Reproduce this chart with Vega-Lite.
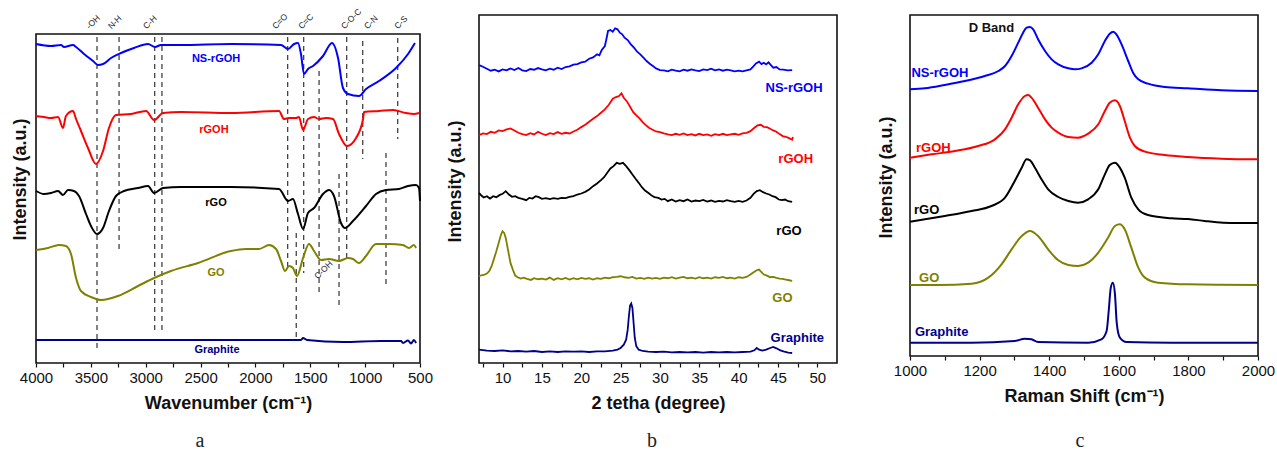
{
"$schema": "https://vega.github.io/schema/vega-lite/v6.json",
"padding": {"left": 10, "top": 7, "right": 0, "bottom": 0},
"background": "white",
"config": {
  "font": "Liberation Sans",
  "view": {"stroke": "#111", "strokeWidth": 1.6},
  "axis": {"grid": false, "domain": false, "labelFont": "Liberation Sans", "labelFontSize": 15, "labelColor": "#111", "labelPadding": 3, "labelFlush": false, "labelOverlap": false, "tickColor": "#111", "tickSize": 4, "tickWidth": 1.2, "titleFont": "Liberation Sans", "titleFontSize": 18, "titleFontWeight": "bold", "titleColor": "#111"},
  "axisX": {"titlePadding": 9},
  "axisY": {"labels": false, "ticks": false},
  "legend": {"disable": true},
  "title": {"font": "Liberation Serif", "fontSize": 20, "fontWeight": "normal", "color": "#222", "orient": "bottom", "frame": "group", "anchor": "middle"}
},
"datasets": {
  "ftirTop": [
    {"t": "-OH", "x": 3499}, {"t": "N-H", "x": 3299}, {"t": "C-H", "x": 2979}, {"t": "C=O", "x": 1803},
    {"t": "C=C", "x": 1566}, {"t": "C-O-C", "x": 1175}, {"t": "C-N", "x": 965}, {"t": "C-S", "x": 691}
  ],
  "ftirRef": [
    {"x": 3444, "y": 326, "y2": 14}, {"x": 3243, "y": 326, "y2": 110}, {"x": 2918, "y": 326, "y2": 29},
    {"x": 2852, "y": 326, "y2": 29}, {"x": 1706, "y": 326, "y2": 92}, {"x": 1560, "y": 326, "y2": 90},
    {"x": 1628, "y": 130, "y2": 22}, {"x": 1420, "y": 292, "y2": 70}, {"x": 1238, "y": 189, "y2": 55},
    {"x": 1168, "y": 326, "y2": 102}, {"x": 1022, "y": 322, "y2": 204}, {"x": 810, "y": 210, "y2": 79},
    {"x": 703, "y": 325, "y2": 224}
  ],
  "ftirLbl": [
    {"s": "NS-rGOH", "x": 2359, "y": 304}, {"s": "rGOH", "x": 2378, "y": 233}, {"s": "rGO", "x": 2359, "y": 160},
    {"s": "GO", "x": 2359, "y": 90}, {"s": "Graphite", "x": 2350, "y": 13}
  ],
  "ftir": [
    {"s":"NS-rGOH","x":4000,"y":319},{"s":"NS-rGOH","x":3863,"y":317},{"s":"NS-rGOH","x":3772,"y":318},{"s":"NS-rGOH","x":3745,"y":316},
    {"s":"NS-rGOH","x":3663,"y":318},{"s":"NS-rGOH","x":3635,"y":316},{"s":"NS-rGOH","x":3562,"y":309},{"s":"NS-rGOH","x":3480,"y":302},
    {"s":"NS-rGOH","x":3435,"y":298},{"s":"NS-rGOH","x":3389,"y":299},{"s":"NS-rGOH","x":3316,"y":305},{"s":"NS-rGOH","x":3225,"y":310},
    {"s":"NS-rGOH","x":3107,"y":315},{"s":"NS-rGOH","x":2979,"y":319},{"s":"NS-rGOH","x":2915,"y":316},{"s":"NS-rGOH","x":2861,"y":318},
    {"s":"NS-rGOH","x":2678,"y":318},{"s":"NS-rGOH","x":2223,"y":319},{"s":"NS-rGOH","x":1767,"y":318},{"s":"NS-rGOH","x":1703,"y":314},
    {"s":"NS-rGOH","x":1648,"y":319},{"s":"NS-rGOH","x":1612,"y":320},{"s":"NS-rGOH","x":1585,"y":309},{"s":"NS-rGOH","x":1557,"y":289},
    {"s":"NS-rGOH","x":1521,"y":294},{"s":"NS-rGOH","x":1475,"y":297},{"s":"NS-rGOH","x":1384,"y":307},{"s":"NS-rGOH","x":1302,"y":320},
    {"s":"NS-rGOH","x":1247,"y":305},{"s":"NS-rGOH","x":1202,"y":275},{"s":"NS-rGOH","x":1156,"y":269},{"s":"NS-rGOH","x":1056,"y":267},
    {"s":"NS-rGOH","x":992,"y":274},{"s":"NS-rGOH","x":874,"y":282},{"s":"NS-rGOH","x":719,"y":295},{"s":"NS-rGOH","x":609,"y":309},
    {"s":"NS-rGOH","x":546,"y":320},
    {"s":"rGOH","x":4000,"y":247},{"s":"rGOH","x":3927,"y":246},{"s":"rGOH","x":3863,"y":245},{"s":"rGOH","x":3799,"y":246},
    {"s":"rGOH","x":3754,"y":235},{"s":"rGOH","x":3727,"y":247},{"s":"rGOH","x":3663,"y":252},{"s":"rGOH","x":3635,"y":244},
    {"s":"rGOH","x":3590,"y":232},{"s":"rGOH","x":3526,"y":215},{"s":"rGOH","x":3453,"y":199},{"s":"rGOH","x":3389,"y":212},
    {"s":"rGOH","x":3335,"y":235},{"s":"rGOH","x":3271,"y":248},{"s":"rGOH","x":3134,"y":249},{"s":"rGOH","x":2997,"y":252},
    {"s":"rGOH","x":2924,"y":243},{"s":"rGOH","x":2842,"y":250},{"s":"rGOH","x":2678,"y":251},{"s":"rGOH","x":2223,"y":250},
    {"s":"rGOH","x":1785,"y":252},{"s":"rGOH","x":1740,"y":244},{"s":"rGOH","x":1694,"y":245},{"s":"rGOH","x":1630,"y":245},
    {"s":"rGOH","x":1603,"y":246},{"s":"rGOH","x":1566,"y":233},{"s":"rGOH","x":1521,"y":244},{"s":"rGOH","x":1466,"y":246},
    {"s":"rGOH","x":1421,"y":244},{"s":"rGOH","x":1357,"y":245},{"s":"rGOH","x":1293,"y":244},{"s":"rGOH","x":1238,"y":229},
    {"s":"rGOH","x":1165,"y":217},{"s":"rGOH","x":1083,"y":225},{"s":"rGOH","x":1019,"y":244},{"s":"rGOH","x":1010,"y":251},
    {"s":"rGOH","x":874,"y":252},{"s":"rGOH","x":746,"y":253},{"s":"rGOH","x":628,"y":250},{"s":"rGOH","x":555,"y":249},
    {"s":"rGOH","x":509,"y":250},
    {"s":"rGO","x":4000,"y":172},{"s":"rGO","x":3927,"y":169},{"s":"rGO","x":3863,"y":170},{"s":"rGO","x":3799,"y":172},
    {"s":"rGO","x":3754,"y":168},{"s":"rGO","x":3708,"y":173},{"s":"rGO","x":3654,"y":172},{"s":"rGO","x":3608,"y":167},
    {"s":"rGO","x":3544,"y":149},{"s":"rGO","x":3499,"y":137},{"s":"rGO","x":3444,"y":129},{"s":"rGO","x":3389,"y":135},
    {"s":"rGO","x":3335,"y":152},{"s":"rGO","x":3271,"y":167},{"s":"rGO","x":3198,"y":172},{"s":"rGO","x":3070,"y":175},
    {"s":"rGO","x":2979,"y":177},{"s":"rGO","x":2924,"y":170},{"s":"rGO","x":2842,"y":175},{"s":"rGO","x":2678,"y":176},
    {"s":"rGO","x":2223,"y":176},{"s":"rGO","x":1785,"y":174},{"s":"rGO","x":1703,"y":162},{"s":"rGO","x":1658,"y":164},
    {"s":"rGO","x":1612,"y":149},{"s":"rGO","x":1566,"y":134},{"s":"rGO","x":1521,"y":150},{"s":"rGO","x":1466,"y":155},
    {"s":"rGO","x":1384,"y":169},{"s":"rGO","x":1329,"y":173},{"s":"rGO","x":1284,"y":167},{"s":"rGO","x":1220,"y":140},
    {"s":"rGO","x":1184,"y":135},{"s":"rGO","x":1111,"y":142},{"s":"rGO","x":992,"y":157},{"s":"rGO","x":901,"y":169},
    {"s":"rGO","x":810,"y":173},{"s":"rGO","x":691,"y":174},{"s":"rGO","x":609,"y":177},{"s":"rGO","x":536,"y":178},
    {"s":"rGO","x":509,"y":175},{"s":"rGO","x":500,"y":162},
    {"s":"GO","x":4000,"y":113},{"s":"GO","x":3891,"y":115},{"s":"GO","x":3790,"y":118},{"s":"GO","x":3727,"y":117},
    {"s":"GO","x":3681,"y":109},{"s":"GO","x":3635,"y":85},{"s":"GO","x":3590,"y":72},{"s":"GO","x":3499,"y":66},
    {"s":"GO","x":3408,"y":63},{"s":"GO","x":3253,"y":67},{"s":"GO","x":3070,"y":77},{"s":"GO","x":2924,"y":85},
    {"s":"GO","x":2770,"y":92},{"s":"GO","x":2523,"y":100},{"s":"GO","x":2223,"y":112},{"s":"GO","x":2086,"y":114},
    {"s":"GO","x":1967,"y":114},{"s":"GO","x":1876,"y":118},{"s":"GO","x":1812,"y":114},{"s":"GO","x":1767,"y":102},
    {"s":"GO","x":1730,"y":92},{"s":"GO","x":1694,"y":97},{"s":"GO","x":1658,"y":95},{"s":"GO","x":1621,"y":87},
    {"s":"GO","x":1566,"y":105},{"s":"GO","x":1512,"y":119},{"s":"GO","x":1466,"y":112},{"s":"GO","x":1402,"y":103},
    {"s":"GO","x":1329,"y":104},{"s":"GO","x":1238,"y":102},{"s":"GO","x":1156,"y":105},{"s":"GO","x":1111,"y":104},
    {"s":"GO","x":1056,"y":100},{"s":"GO","x":992,"y":107},{"s":"GO","x":901,"y":119},{"s":"GO","x":783,"y":119},
    {"s":"GO","x":655,"y":118},{"s":"GO","x":600,"y":115},{"s":"GO","x":555,"y":118},{"s":"GO","x":536,"y":115},
    {"s":"Graphite","x":4000,"y":23},{"s":"Graphite","x":2268,"y":23},{"s":"Graphite","x":1585,"y":23},{"s":"Graphite","x":1566,"y":25},
    {"s":"Graphite","x":1530,"y":23},{"s":"Graphite","x":1202,"y":21},{"s":"Graphite","x":855,"y":22},{"s":"Graphite","x":673,"y":22},
    {"s":"Graphite","x":655,"y":20},{"s":"Graphite","x":609,"y":22.5},{"s":"Graphite","x":582,"y":19.5},{"s":"Graphite","x":555,"y":23},
    {"s":"Graphite","x":536,"y":20}
  ],
  "xrdLbl": [
    {"s": "NS-rGOH", "x": 47.04, "y": 823}, {"s": "rGOH", "x": 47.25, "y": 610}, {"s": "rGO", "x": 46.4, "y": 395},
    {"s": "GO", "x": 45.56, "y": 195}, {"s": "Graphite", "x": 47.46, "y": 75}
  ],
  "xrd": [
    {"s":"NS-rGOH","x":7.0,"y":893},{"s":"NS-rGOH","x":7.5,"y":888},{"s":"NS-rGOH","x":8.0,"y":882},{"s":"NS-rGOH","x":8.5,"y":876},{"s":"NS-rGOH","x":9.0,"y":879},
    {"s":"NS-rGOH","x":9.5,"y":874},{"s":"NS-rGOH","x":10.0,"y":880},{"s":"NS-rGOH","x":10.5,"y":877},{"s":"NS-rGOH","x":11.0,"y":883},{"s":"NS-rGOH","x":11.5,"y":878},
    {"s":"NS-rGOH","x":12.0,"y":884},{"s":"NS-rGOH","x":12.5,"y":877},{"s":"NS-rGOH","x":13.0,"y":875},{"s":"NS-rGOH","x":13.5,"y":881},{"s":"NS-rGOH","x":14.0,"y":879},
    {"s":"NS-rGOH","x":14.5,"y":884},{"s":"NS-rGOH","x":15.0,"y":880},{"s":"NS-rGOH","x":15.5,"y":877},{"s":"NS-rGOH","x":16.0,"y":882},{"s":"NS-rGOH","x":16.5,"y":879},
    {"s":"NS-rGOH","x":17.0,"y":885},{"s":"NS-rGOH","x":17.5,"y":881},{"s":"NS-rGOH","x":18.0,"y":887},{"s":"NS-rGOH","x":18.5,"y":889},{"s":"NS-rGOH","x":19.0,"y":894},
    {"s":"NS-rGOH","x":19.5,"y":896},{"s":"NS-rGOH","x":20.0,"y":901},{"s":"NS-rGOH","x":20.5,"y":903},{"s":"NS-rGOH","x":21.0,"y":912},{"s":"NS-rGOH","x":21.5,"y":916},
    {"s":"NS-rGOH","x":22.0,"y":925},{"s":"NS-rGOH","x":22.3,"y":922},{"s":"NS-rGOH","x":22.6,"y":938},{"s":"NS-rGOH","x":23.0,"y":950},{"s":"NS-rGOH","x":23.2,"y":972},
    {"s":"NS-rGOH","x":23.4,"y":995},{"s":"NS-rGOH","x":23.7,"y":998},{"s":"NS-rGOH","x":24.0,"y":993},{"s":"NS-rGOH","x":24.3,"y":1003},{"s":"NS-rGOH","x":24.6,"y":1000},
    {"s":"NS-rGOH","x":24.9,"y":990},{"s":"NS-rGOH","x":25.2,"y":985},{"s":"NS-rGOH","x":25.5,"y":975},{"s":"NS-rGOH","x":25.9,"y":968},{"s":"NS-rGOH","x":26.3,"y":955},
    {"s":"NS-rGOH","x":26.7,"y":945},{"s":"NS-rGOH","x":27.1,"y":933},{"s":"NS-rGOH","x":27.5,"y":925},{"s":"NS-rGOH","x":27.9,"y":915},{"s":"NS-rGOH","x":28.3,"y":905},
    {"s":"NS-rGOH","x":28.7,"y":897},{"s":"NS-rGOH","x":29.1,"y":890},{"s":"NS-rGOH","x":29.5,"y":883},{"s":"NS-rGOH","x":30.0,"y":878},{"s":"NS-rGOH","x":30.5,"y":877},
    {"s":"NS-rGOH","x":31.0,"y":874},{"s":"NS-rGOH","x":31.5,"y":879},{"s":"NS-rGOH","x":32.0,"y":876},{"s":"NS-rGOH","x":32.5,"y":874},{"s":"NS-rGOH","x":33.0,"y":879},
    {"s":"NS-rGOH","x":33.5,"y":876},{"s":"NS-rGOH","x":34.0,"y":880},{"s":"NS-rGOH","x":34.5,"y":877},{"s":"NS-rGOH","x":35.0,"y":875},{"s":"NS-rGOH","x":35.5,"y":880},
    {"s":"NS-rGOH","x":36.0,"y":878},{"s":"NS-rGOH","x":36.5,"y":882},{"s":"NS-rGOH","x":37.0,"y":877},{"s":"NS-rGOH","x":37.5,"y":880},{"s":"NS-rGOH","x":38.0,"y":876},
    {"s":"NS-rGOH","x":38.5,"y":879},{"s":"NS-rGOH","x":39.0,"y":877},{"s":"NS-rGOH","x":39.5,"y":874},{"s":"NS-rGOH","x":40.0,"y":876},{"s":"NS-rGOH","x":40.5,"y":874},
    {"s":"NS-rGOH","x":41.0,"y":877},{"s":"NS-rGOH","x":41.5,"y":880},{"s":"NS-rGOH","x":41.9,"y":890},{"s":"NS-rGOH","x":42.2,"y":898},{"s":"NS-rGOH","x":42.6,"y":903},
    {"s":"NS-rGOH","x":42.9,"y":896},{"s":"NS-rGOH","x":43.2,"y":900},{"s":"NS-rGOH","x":43.5,"y":895},{"s":"NS-rGOH","x":43.8,"y":901},{"s":"NS-rGOH","x":44.1,"y":893},
    {"s":"NS-rGOH","x":44.4,"y":885},{"s":"NS-rGOH","x":44.8,"y":887},{"s":"NS-rGOH","x":45.2,"y":880},{"s":"NS-rGOH","x":45.7,"y":879},{"s":"NS-rGOH","x":46.2,"y":877},
    {"s":"NS-rGOH","x":46.8,"y":878},
    {"s":"rGOH","x":7.0,"y":683},{"s":"rGOH","x":7.5,"y":688},{"s":"rGOH","x":8.0,"y":686},{"s":"rGOH","x":8.5,"y":693},{"s":"rGOH","x":9.0,"y":690},
    {"s":"rGOH","x":9.5,"y":697},{"s":"rGOH","x":10.0,"y":695},{"s":"rGOH","x":10.5,"y":700},{"s":"rGOH","x":11.0,"y":703},{"s":"rGOH","x":11.5,"y":697},
    {"s":"rGOH","x":12.0,"y":690},{"s":"rGOH","x":12.5,"y":686},{"s":"rGOH","x":13.0,"y":683},{"s":"rGOH","x":13.5,"y":689},{"s":"rGOH","x":14.0,"y":685},
    {"s":"rGOH","x":14.5,"y":693},{"s":"rGOH","x":15.0,"y":687},{"s":"rGOH","x":15.5,"y":683},{"s":"rGOH","x":16.0,"y":689},{"s":"rGOH","x":16.5,"y":686},
    {"s":"rGOH","x":17.0,"y":692},{"s":"rGOH","x":17.5,"y":687},{"s":"rGOH","x":18.0,"y":690},{"s":"rGOH","x":18.5,"y":688},{"s":"rGOH","x":19.0,"y":694},
    {"s":"rGOH","x":19.5,"y":699},{"s":"rGOH","x":20.0,"y":707},{"s":"rGOH","x":20.5,"y":714},{"s":"rGOH","x":21.0,"y":723},{"s":"rGOH","x":21.5,"y":732},
    {"s":"rGOH","x":22.0,"y":740},{"s":"rGOH","x":22.5,"y":750},{"s":"rGOH","x":23.0,"y":760},{"s":"rGOH","x":23.5,"y":774},{"s":"rGOH","x":24.0,"y":792},
    {"s":"rGOH","x":24.4,"y":797},{"s":"rGOH","x":24.8,"y":800},{"s":"rGOH","x":25.1,"y":808},{"s":"rGOH","x":25.4,"y":795},{"s":"rGOH","x":25.8,"y":784},
    {"s":"rGOH","x":26.2,"y":768},{"s":"rGOH","x":26.6,"y":752},{"s":"rGOH","x":27.0,"y":742},{"s":"rGOH","x":27.4,"y":733},{"s":"rGOH","x":27.8,"y":722},
    {"s":"rGOH","x":28.2,"y":713},{"s":"rGOH","x":28.6,"y":705},{"s":"rGOH","x":29.0,"y":700},{"s":"rGOH","x":29.5,"y":694},{"s":"rGOH","x":30.0,"y":692},
    {"s":"rGOH","x":30.5,"y":688},{"s":"rGOH","x":31.0,"y":685},{"s":"rGOH","x":31.5,"y":683},{"s":"rGOH","x":32.0,"y":687},{"s":"rGOH","x":32.5,"y":684},
    {"s":"rGOH","x":33.0,"y":688},{"s":"rGOH","x":33.5,"y":683},{"s":"rGOH","x":34.0,"y":686},{"s":"rGOH","x":34.5,"y":682},{"s":"rGOH","x":35.0,"y":687},
    {"s":"rGOH","x":35.5,"y":683},{"s":"rGOH","x":36.0,"y":685},{"s":"rGOH","x":36.5,"y":681},{"s":"rGOH","x":37.0,"y":686},{"s":"rGOH","x":37.5,"y":683},
    {"s":"rGOH","x":38.0,"y":687},{"s":"rGOH","x":38.5,"y":683},{"s":"rGOH","x":39.0,"y":685},{"s":"rGOH","x":39.5,"y":687},{"s":"rGOH","x":40.0,"y":684},
    {"s":"rGOH","x":40.5,"y":688},{"s":"rGOH","x":41.0,"y":690},{"s":"rGOH","x":41.5,"y":695},{"s":"rGOH","x":42.0,"y":705},{"s":"rGOH","x":42.4,"y":712},
    {"s":"rGOH","x":42.8,"y":714},{"s":"rGOH","x":43.2,"y":708},{"s":"rGOH","x":43.6,"y":707},{"s":"rGOH","x":44.0,"y":702},{"s":"rGOH","x":44.4,"y":697},
    {"s":"rGOH","x":44.8,"y":693},{"s":"rGOH","x":45.2,"y":686},{"s":"rGOH","x":45.6,"y":680},{"s":"rGOH","x":46.0,"y":678},{"s":"rGOH","x":46.4,"y":674},
    {"s":"rGOH","x":46.8,"y":669},{"s":"rGOH","x":46.9,"y":677},
    {"s":"rGO","x":7.0,"y":510},{"s":"rGO","x":7.3,"y":502},{"s":"rGO","x":7.6,"y":496},{"s":"rGO","x":8.0,"y":500},{"s":"rGO","x":8.4,"y":493},
    {"s":"rGO","x":8.8,"y":500},{"s":"rGO","x":9.2,"y":497},{"s":"rGO","x":9.6,"y":503},{"s":"rGO","x":10.0,"y":507},{"s":"rGO","x":10.4,"y":515},
    {"s":"rGO","x":10.8,"y":505},{"s":"rGO","x":11.2,"y":498},{"s":"rGO","x":11.6,"y":500},{"s":"rGO","x":12.0,"y":495},{"s":"rGO","x":12.5,"y":492},
    {"s":"rGO","x":13.0,"y":488},{"s":"rGO","x":13.4,"y":495},{"s":"rGO","x":13.8,"y":493},{"s":"rGO","x":14.2,"y":500},{"s":"rGO","x":14.6,"y":497},
    {"s":"rGO","x":15.0,"y":492},{"s":"rGO","x":15.5,"y":494},{"s":"rGO","x":16.0,"y":491},{"s":"rGO","x":16.5,"y":494},{"s":"rGO","x":17.0,"y":492},
    {"s":"rGO","x":17.5,"y":495},{"s":"rGO","x":18.0,"y":494},{"s":"rGO","x":18.5,"y":498},{"s":"rGO","x":19.0,"y":500},{"s":"rGO","x":19.5,"y":505},
    {"s":"rGO","x":20.0,"y":508},{"s":"rGO","x":20.5,"y":513},{"s":"rGO","x":21.0,"y":520},{"s":"rGO","x":21.5,"y":530},{"s":"rGO","x":22.0,"y":538},
    {"s":"rGO","x":22.5,"y":548},{"s":"rGO","x":22.9,"y":557},{"s":"rGO","x":23.3,"y":570},{"s":"rGO","x":23.7,"y":583},{"s":"rGO","x":24.1,"y":590},
    {"s":"rGO","x":24.5,"y":600},{"s":"rGO","x":24.9,"y":597},{"s":"rGO","x":25.3,"y":600},{"s":"rGO","x":25.7,"y":590},{"s":"rGO","x":26.1,"y":578},
    {"s":"rGO","x":26.5,"y":565},{"s":"rGO","x":26.9,"y":552},{"s":"rGO","x":27.3,"y":540},{"s":"rGO","x":27.7,"y":527},{"s":"rGO","x":28.1,"y":517},
    {"s":"rGO","x":28.5,"y":510},{"s":"rGO","x":28.9,"y":503},{"s":"rGO","x":29.3,"y":497},{"s":"rGO","x":29.8,"y":495},{"s":"rGO","x":30.2,"y":490},
    {"s":"rGO","x":30.6,"y":492},{"s":"rGO","x":31.0,"y":485},{"s":"rGO","x":31.5,"y":490},{"s":"rGO","x":32.0,"y":484},{"s":"rGO","x":32.5,"y":488},
    {"s":"rGO","x":33.0,"y":485},{"s":"rGO","x":33.5,"y":490},{"s":"rGO","x":34.0,"y":484},{"s":"rGO","x":34.5,"y":487},{"s":"rGO","x":35.0,"y":485},
    {"s":"rGO","x":35.5,"y":489},{"s":"rGO","x":36.0,"y":484},{"s":"rGO","x":36.5,"y":487},{"s":"rGO","x":37.0,"y":483},{"s":"rGO","x":37.5,"y":486},
    {"s":"rGO","x":38.0,"y":484},{"s":"rGO","x":38.5,"y":488},{"s":"rGO","x":39.0,"y":485},{"s":"rGO","x":39.5,"y":483},{"s":"rGO","x":40.0,"y":486},
    {"s":"rGO","x":40.5,"y":483},{"s":"rGO","x":41.0,"y":487},{"s":"rGO","x":41.5,"y":495},{"s":"rGO","x":41.9,"y":507},{"s":"rGO","x":42.3,"y":515},
    {"s":"rGO","x":42.7,"y":518},{"s":"rGO","x":43.1,"y":512},{"s":"rGO","x":43.5,"y":508},{"s":"rGO","x":43.9,"y":505},{"s":"rGO","x":44.3,"y":500},
    {"s":"rGO","x":44.7,"y":497},{"s":"rGO","x":45.1,"y":490},{"s":"rGO","x":45.5,"y":488},{"s":"rGO","x":45.9,"y":490},{"s":"rGO","x":46.3,"y":485},
    {"s":"rGO","x":46.8,"y":483},
    {"s":"GO","x":7.0,"y":260},{"s":"GO","x":7.3,"y":263},{"s":"GO","x":7.7,"y":265},{"s":"GO","x":8.0,"y":268},{"s":"GO","x":8.3,"y":275},
    {"s":"GO","x":8.6,"y":290},{"s":"GO","x":8.9,"y":312},{"s":"GO","x":9.2,"y":335},{"s":"GO","x":9.5,"y":360},{"s":"GO","x":9.8,"y":385},
    {"s":"GO","x":10.0,"y":395},{"s":"GO","x":10.2,"y":390},{"s":"GO","x":10.4,"y":375},{"s":"GO","x":10.6,"y":350},{"s":"GO","x":10.8,"y":325},
    {"s":"GO","x":11.0,"y":300},{"s":"GO","x":11.3,"y":280},{"s":"GO","x":11.6,"y":262},{"s":"GO","x":11.9,"y":257},{"s":"GO","x":12.3,"y":253},
    {"s":"GO","x":12.7,"y":256},{"s":"GO","x":13.1,"y":252},{"s":"GO","x":13.6,"y":249},{"s":"GO","x":14.0,"y":254},{"s":"GO","x":14.5,"y":251},
    {"s":"GO","x":15.0,"y":253},{"s":"GO","x":15.5,"y":250},{"s":"GO","x":16.0,"y":256},{"s":"GO","x":16.5,"y":249},{"s":"GO","x":17.0,"y":254},
    {"s":"GO","x":17.5,"y":251},{"s":"GO","x":18.0,"y":255},{"s":"GO","x":18.5,"y":250},{"s":"GO","x":19.0,"y":254},{"s":"GO","x":19.5,"y":251},
    {"s":"GO","x":20.0,"y":255},{"s":"GO","x":20.5,"y":252},{"s":"GO","x":21.0,"y":254},{"s":"GO","x":21.5,"y":250},{"s":"GO","x":22.0,"y":254},
    {"s":"GO","x":22.5,"y":252},{"s":"GO","x":23.0,"y":256},{"s":"GO","x":23.5,"y":254},{"s":"GO","x":24.0,"y":257},{"s":"GO","x":24.5,"y":258},
    {"s":"GO","x":25.0,"y":260},{"s":"GO","x":25.5,"y":257},{"s":"GO","x":26.0,"y":255},{"s":"GO","x":26.5,"y":258},{"s":"GO","x":27.0,"y":253},
    {"s":"GO","x":27.5,"y":255},{"s":"GO","x":28.0,"y":252},{"s":"GO","x":28.5,"y":256},{"s":"GO","x":29.0,"y":253},{"s":"GO","x":29.5,"y":255},
    {"s":"GO","x":30.0,"y":252},{"s":"GO","x":30.5,"y":256},{"s":"GO","x":31.0,"y":254},{"s":"GO","x":31.5,"y":257},{"s":"GO","x":32.0,"y":253},
    {"s":"GO","x":32.5,"y":256},{"s":"GO","x":33.0,"y":258},{"s":"GO","x":33.5,"y":254},{"s":"GO","x":34.0,"y":256},{"s":"GO","x":34.5,"y":253},
    {"s":"GO","x":35.0,"y":257},{"s":"GO","x":35.5,"y":254},{"s":"GO","x":36.0,"y":256},{"s":"GO","x":36.5,"y":253},{"s":"GO","x":37.0,"y":257},
    {"s":"GO","x":37.5,"y":255},{"s":"GO","x":38.0,"y":258},{"s":"GO","x":38.5,"y":254},{"s":"GO","x":39.0,"y":256},{"s":"GO","x":39.5,"y":253},
    {"s":"GO","x":40.0,"y":257},{"s":"GO","x":40.5,"y":255},{"s":"GO","x":41.0,"y":258},{"s":"GO","x":41.5,"y":265},{"s":"GO","x":41.9,"y":272},
    {"s":"GO","x":42.3,"y":278},{"s":"GO","x":42.6,"y":280},{"s":"GO","x":42.9,"y":272},{"s":"GO","x":43.2,"y":265},{"s":"GO","x":43.6,"y":262},
    {"s":"GO","x":44.0,"y":257},{"s":"GO","x":44.4,"y":258},{"s":"GO","x":44.8,"y":255},{"s":"GO","x":45.2,"y":253},{"s":"GO","x":45.6,"y":252},
    {"s":"GO","x":46.0,"y":250},{"s":"GO","x":46.4,"y":248},{"s":"GO","x":46.8,"y":246},
    {"s":"Graphite","x":7.0,"y":40},{"s":"Graphite","x":8.0,"y":37},{"s":"Graphite","x":9.0,"y":36},{"s":"Graphite","x":10.0,"y":38},{"s":"Graphite","x":11.0,"y":35},
    {"s":"Graphite","x":12.0,"y":36},{"s":"Graphite","x":13.0,"y":34},{"s":"Graphite","x":14.0,"y":36},{"s":"Graphite","x":15.0,"y":33},{"s":"Graphite","x":16.0,"y":35},
    {"s":"Graphite","x":17.0,"y":33},{"s":"Graphite","x":18.0,"y":35},{"s":"Graphite","x":19.0,"y":34},{"s":"Graphite","x":20.0,"y":35},{"s":"Graphite","x":21.0,"y":33},
    {"s":"Graphite","x":22.0,"y":35},{"s":"Graphite","x":23.0,"y":35},{"s":"Graphite","x":24.0,"y":37},{"s":"Graphite","x":24.6,"y":40},{"s":"Graphite","x":25.0,"y":45},
    {"s":"Graphite","x":25.4,"y":55},{"s":"Graphite","x":25.7,"y":70},{"s":"Graphite","x":25.9,"y":100},{"s":"Graphite","x":26.05,"y":140},{"s":"Graphite","x":26.2,"y":172},
    {"s":"Graphite","x":26.35,"y":178},{"s":"Graphite","x":26.5,"y":165},{"s":"Graphite","x":26.65,"y":120},{"s":"Graphite","x":26.8,"y":75},{"s":"Graphite","x":27.0,"y":50},
    {"s":"Graphite","x":27.3,"y":40},{"s":"Graphite","x":27.8,"y":36},{"s":"Graphite","x":28.5,"y":34},{"s":"Graphite","x":29.5,"y":33},{"s":"Graphite","x":30.5,"y":34},
    {"s":"Graphite","x":31.5,"y":32},{"s":"Graphite","x":32.5,"y":33},{"s":"Graphite","x":33.5,"y":32},{"s":"Graphite","x":34.5,"y":33},{"s":"Graphite","x":35.5,"y":31},
    {"s":"Graphite","x":36.5,"y":33},{"s":"Graphite","x":37.5,"y":32},{"s":"Graphite","x":38.5,"y":33},{"s":"Graphite","x":39.5,"y":32},{"s":"Graphite","x":40.5,"y":33},
    {"s":"Graphite","x":41.5,"y":34},{"s":"Graphite","x":42.0,"y":38},{"s":"Graphite","x":42.3,"y":45},{"s":"Graphite","x":42.6,"y":40},{"s":"Graphite","x":43.0,"y":37},
    {"s":"Graphite","x":43.5,"y":40},{"s":"Graphite","x":44.0,"y":45},{"s":"Graphite","x":44.4,"y":48},{"s":"Graphite","x":44.8,"y":44},{"s":"Graphite","x":45.3,"y":38},
    {"s":"Graphite","x":45.8,"y":34},{"s":"Graphite","x":46.3,"y":31},{"s":"Graphite","x":46.8,"y":30}
  ],
  "ramanLbl": [
    {"s": "NS-rGOH", "x": 1086, "y": 848}, {"s": "rGOH", "x": 1067, "y": 625}, {"s": "rGO", "x": 1048, "y": 437},
    {"s": "GO", "x": 1055, "y": 235}, {"s": "Graphite", "x": 1091, "y": 73}
  ],
  "raman": [
    {"s":"NS-rGOH","x":1000,"y":800},{"s":"NS-rGOH","x":1043,"y":803},{"s":"NS-rGOH","x":1100,"y":813},{"s":"NS-rGOH","x":1158,"y":825},{"s":"NS-rGOH","x":1215,"y":840},
    {"s":"NS-rGOH","x":1254,"y":855},{"s":"NS-rGOH","x":1273,"y":870},{"s":"NS-rGOH","x":1292,"y":900},{"s":"NS-rGOH","x":1311,"y":940},{"s":"NS-rGOH","x":1325,"y":970},
    {"s":"NS-rGOH","x":1335,"y":985},{"s":"NS-rGOH","x":1345,"y":987},{"s":"NS-rGOH","x":1354,"y":980},{"s":"NS-rGOH","x":1368,"y":950},{"s":"NS-rGOH","x":1388,"y":915},
    {"s":"NS-rGOH","x":1407,"y":890},{"s":"NS-rGOH","x":1426,"y":875},{"s":"NS-rGOH","x":1455,"y":863},{"s":"NS-rGOH","x":1474,"y":860},{"s":"NS-rGOH","x":1493,"y":863},
    {"s":"NS-rGOH","x":1522,"y":880},{"s":"NS-rGOH","x":1541,"y":905},{"s":"NS-rGOH","x":1560,"y":945},{"s":"NS-rGOH","x":1574,"y":967},{"s":"NS-rGOH","x":1584,"y":973},
    {"s":"NS-rGOH","x":1593,"y":965},{"s":"NS-rGOH","x":1608,"y":935},{"s":"NS-rGOH","x":1627,"y":885},{"s":"NS-rGOH","x":1641,"y":850},{"s":"NS-rGOH","x":1656,"y":830},
    {"s":"NS-rGOH","x":1684,"y":817},{"s":"NS-rGOH","x":1732,"y":807},{"s":"NS-rGOH","x":1799,"y":803},{"s":"NS-rGOH","x":1895,"y":797},{"s":"NS-rGOH","x":2000,"y":795},
    {"s":"rGOH","x":1000,"y":595},{"s":"rGOH","x":1062,"y":605},{"s":"rGOH","x":1129,"y":615},{"s":"rGOH","x":1196,"y":630},{"s":"rGOH","x":1244,"y":650},
    {"s":"rGOH","x":1273,"y":680},{"s":"rGOH","x":1292,"y":715},{"s":"rGOH","x":1311,"y":755},{"s":"rGOH","x":1330,"y":780},{"s":"rGOH","x":1340,"y":783},
    {"s":"rGOH","x":1349,"y":775},{"s":"rGOH","x":1368,"y":745},{"s":"rGOH","x":1388,"y":710},{"s":"rGOH","x":1407,"y":685},{"s":"rGOH","x":1426,"y":670},
    {"s":"rGOH","x":1455,"y":657},{"s":"rGOH","x":1483,"y":655},{"s":"rGOH","x":1512,"y":667},{"s":"rGOH","x":1541,"y":695},{"s":"rGOH","x":1560,"y":735},
    {"s":"rGOH","x":1574,"y":760},{"s":"rGOH","x":1589,"y":767},{"s":"rGOH","x":1603,"y":750},{"s":"rGOH","x":1617,"y":705},{"s":"rGOH","x":1632,"y":655},
    {"s":"rGOH","x":1646,"y":630},{"s":"rGOH","x":1675,"y":613},{"s":"rGOH","x":1732,"y":603},{"s":"rGOH","x":1799,"y":597},{"s":"rGOH","x":1895,"y":592},
    {"s":"rGOH","x":2000,"y":590},
    {"s":"rGO","x":1000,"y":403},{"s":"rGO","x":1043,"y":410},{"s":"rGO","x":1100,"y":420},{"s":"rGO","x":1177,"y":435},{"s":"rGO","x":1234,"y":450},
    {"s":"rGO","x":1273,"y":475},{"s":"rGO","x":1301,"y":525},{"s":"rGO","x":1321,"y":565},{"s":"rGO","x":1335,"y":590},{"s":"rGO","x":1345,"y":587},
    {"s":"rGO","x":1359,"y":565},{"s":"rGO","x":1378,"y":530},{"s":"rGO","x":1397,"y":500},{"s":"rGO","x":1426,"y":477},{"s":"rGO","x":1455,"y":465},
    {"s":"rGO","x":1483,"y":460},{"s":"rGO","x":1512,"y":470},{"s":"rGO","x":1541,"y":500},{"s":"rGO","x":1560,"y":545},{"s":"rGO","x":1574,"y":573},
    {"s":"rGO","x":1589,"y":580},{"s":"rGO","x":1603,"y":565},{"s":"rGO","x":1617,"y":535},{"s":"rGO","x":1636,"y":475},{"s":"rGO","x":1656,"y":440},
    {"s":"rGO","x":1684,"y":423},{"s":"rGO","x":1751,"y":413},{"s":"rGO","x":1799,"y":411},{"s":"rGO","x":1847,"y":405},{"s":"rGO","x":1900,"y":400},
    {"s":"rGO","x":1943,"y":399},{"s":"rGO","x":2000,"y":399},
    {"s":"GO","x":1000,"y":213},{"s":"GO","x":1081,"y":213},{"s":"GO","x":1177,"y":217},{"s":"GO","x":1225,"y":235},{"s":"GO","x":1263,"y":275},
    {"s":"GO","x":1292,"y":320},{"s":"GO","x":1321,"y":360},{"s":"GO","x":1345,"y":375},{"s":"GO","x":1368,"y":360},{"s":"GO","x":1397,"y":320},
    {"s":"GO","x":1426,"y":287},{"s":"GO","x":1455,"y":273},{"s":"GO","x":1483,"y":270},{"s":"GO","x":1512,"y":280},{"s":"GO","x":1541,"y":310},
    {"s":"GO","x":1569,"y":355},{"s":"GO","x":1589,"y":390},{"s":"GO","x":1603,"y":395},{"s":"GO","x":1617,"y":380},{"s":"GO","x":1636,"y":325},
    {"s":"GO","x":1656,"y":265},{"s":"GO","x":1675,"y":235},{"s":"GO","x":1713,"y":220},{"s":"GO","x":1799,"y":215},{"s":"GO","x":2000,"y":213},
    {"s":"Graphite","x":1000,"y":40},{"s":"Graphite","x":1177,"y":40},{"s":"Graphite","x":1301,"y":45},{"s":"Graphite","x":1330,"y":52},{"s":"Graphite","x":1349,"y":50},
    {"s":"Graphite","x":1368,"y":42},{"s":"Graphite","x":1512,"y":40},{"s":"Graphite","x":1550,"y":50},{"s":"Graphite","x":1565,"y":75},{"s":"Graphite","x":1571,"y":135},
    {"s":"Graphite","x":1577,"y":205},{"s":"Graphite","x":1583,"y":220},{"s":"Graphite","x":1589,"y":185},{"s":"Graphite","x":1594,"y":100},{"s":"Graphite","x":1603,"y":55},
    {"s":"Graphite","x":1622,"y":42},{"s":"Graphite","x":1751,"y":40},{"s":"Graphite","x":2000,"y":40}
  ]
},
"hconcat": [
  {
    "vconcat": [
      {
        "width": 384, "height": 16,
        "view": {"stroke": null},
        "data": {"name": "ftirTop"},
        "mark": {"type": "text", "angle": -45, "align": "left", "baseline": "bottom", "fontSize": 8.5, "color": "#222"},
        "encoding": {
          "x": {"field": "x", "type": "quantitative", "scale": {"domain": [500, 4000], "reverse": true, "nice": false, "zero": false}, "axis": null},
          "y": {"datum": 0, "type": "quantitative", "scale": {"domain": [0, 1]}, "axis": null},
          "text": {"field": "t"}
        }
      },
      {
        "width": 384, "height": 329,
        "title": {"text": "a", "dx": -28, "offset": 19},
        "encoding": {
          "x": {"field": "x", "type": "quantitative", "scale": {"domain": [500, 4000], "reverse": true, "nice": false, "zero": false},
                "axis": {"title": "Wavenumber (cm\u207b\u00b9)", "format": "d", "values": [4000,3750,3500,3250,3000,2750,2500,2250,2000,1750,1500,1250,1000,750,500], "labelExpr": "datum.value % 500 === 0 ? datum.label : ''"}},
          "y": {"field": "y", "type": "quantitative", "scale": {"domain": [0, 329], "nice": false}, "axis": {"title": "Intensity (a.u.)", "titlePadding": 7, "titleY": 145}}
        },
        "layer": [
          {"data": {"name": "ftirRef"}, "mark": {"type": "rule", "strokeDash": [5, 4], "color": "#333", "strokeWidth": 1.2}, "encoding": {"y2": {"field": "y2"}}},
          {"data": {"name": "ftir"}, "mark": {"type": "line", "strokeWidth": 2, "interpolate": "monotone"},
           "encoding": {"color": {"field": "s", "type": "nominal", "scale": {"domain": ["NS-rGOH", "rGOH", "rGO", "GO", "Graphite"], "range": ["#0000ff", "#ff0000", "#000000", "#808000", "#00008b"]}, "legend": null}}},
          {"data": {"name": "ftirLbl"}, "mark": {"type": "text", "fontWeight": "bold", "fontSize": 11},
           "encoding": {"color": {"field": "s", "type": "nominal", "scale": {"domain": ["NS-rGOH", "rGOH", "rGO", "GO", "Graphite"], "range": ["#0000ff", "#ff0000", "#000000", "#808000", "#00008b"]}, "legend": null}, "text": {"field": "s"}}},
          {"data": {"values": [{"t": "C-OH", "x": 1420, "y": 82}]}, "mark": {"type": "text", "angle": -45, "align": "left", "baseline": "bottom", "fontSize": 8.5, "color": "#222"},
           "encoding": {"text": {"field": "t"}}}
        ]
      }
    ],
    "spacing": 2
  },
  {
    "hconcat": [
      {
        "width": 358, "height": 348,
        "title": {"text": "b", "dx": -6, "offset": 19},
        "encoding": {
          "x": {"field": "x", "type": "quantitative", "scale": {"domain": [7, 52.5], "nice": false, "zero": false},
                "axis": {"title": "2 tetha (degree)", "values": [7.5,10,12.5,15,17.5,20,22.5,25,27.5,30,32.5,35,37.5,40,42.5,45,47.5,50], "labelExpr": "datum.value % 5 === 0 ? datum.label : ''"}},
          "y": {"field": "y", "type": "quantitative", "scale": {"domain": [0, 1043], "nice": false}, "axis": {"title": "Intensity (a.u.)", "titlePadding": 15, "titleY": 166}}
        },
        "layer": [
          {"data": {"name": "xrd"}, "mark": {"type": "line", "strokeWidth": 1.8},
           "encoding": {"color": {"field": "s", "type": "nominal", "scale": {"domain": ["NS-rGOH", "rGOH", "rGO", "GO", "Graphite"], "range": ["#0000ff", "#ff0000", "#000000", "#808000", "#00008b"]}, "legend": null}}},
          {"data": {"name": "xrdLbl"}, "mark": {"type": "text", "fontWeight": "bold", "fontSize": 13},
           "encoding": {"color": {"field": "s", "type": "nominal", "scale": {"domain": ["NS-rGOH", "rGOH", "rGO", "GO", "Graphite"], "range": ["#0000ff", "#ff0000", "#000000", "#808000", "#00008b"]}, "legend": null}, "text": {"field": "s"}}}
        ]
      },
      {
        "width": 348, "height": 341,
        "title": {"text": "c", "dx": -4, "offset": 26},
        "encoding": {
          "x": {"field": "x", "type": "quantitative", "scale": {"domain": [1000, 2000], "nice": false, "zero": false},
                "axis": {"title": "Raman Shift (cm\u207b\u00b9)", "format": "d", "values": [1000,1100,1200,1300,1400,1500,1600,1700,1800,1900,2000], "labelExpr": "datum.value % 200 === 0 ? datum.label : ''"}},
          "y": {"field": "y", "type": "quantitative", "scale": {"domain": [0, 1023], "nice": false}, "axis": {"title": "Intensity (a.u.)", "titlePadding": 15, "titleY": 162}}
        },
        "layer": [
          {"data": {"name": "raman"}, "mark": {"type": "line", "strokeWidth": 2, "interpolate": "monotone"},
           "encoding": {"color": {"field": "s", "type": "nominal", "scale": {"domain": ["NS-rGOH", "rGOH", "rGO", "GO", "Graphite"], "range": ["#0000ff", "#ff0000", "#000000", "#808000", "#00008b"]}, "legend": null}}},
          {"data": {"name": "ramanLbl"}, "mark": {"type": "text", "fontWeight": "bold", "fontSize": 13},
           "encoding": {"color": {"field": "s", "type": "nominal", "scale": {"domain": ["NS-rGOH", "rGOH", "rGO", "GO", "Graphite"], "range": ["#0000ff", "#ff0000", "#000000", "#808000", "#00008b"]}, "legend": null}, "text": {"field": "s"}}},
          {"data": {"values": [{"t": "D Band", "x": 1234, "y": 983}]}, "mark": {"type": "text", "fontWeight": "bold", "fontSize": 13, "color": "#111"},
           "encoding": {"text": {"field": "t"}}}
        ]
      }
    ],
    "spacing": 38
  }
],
"spacing": 11
}
